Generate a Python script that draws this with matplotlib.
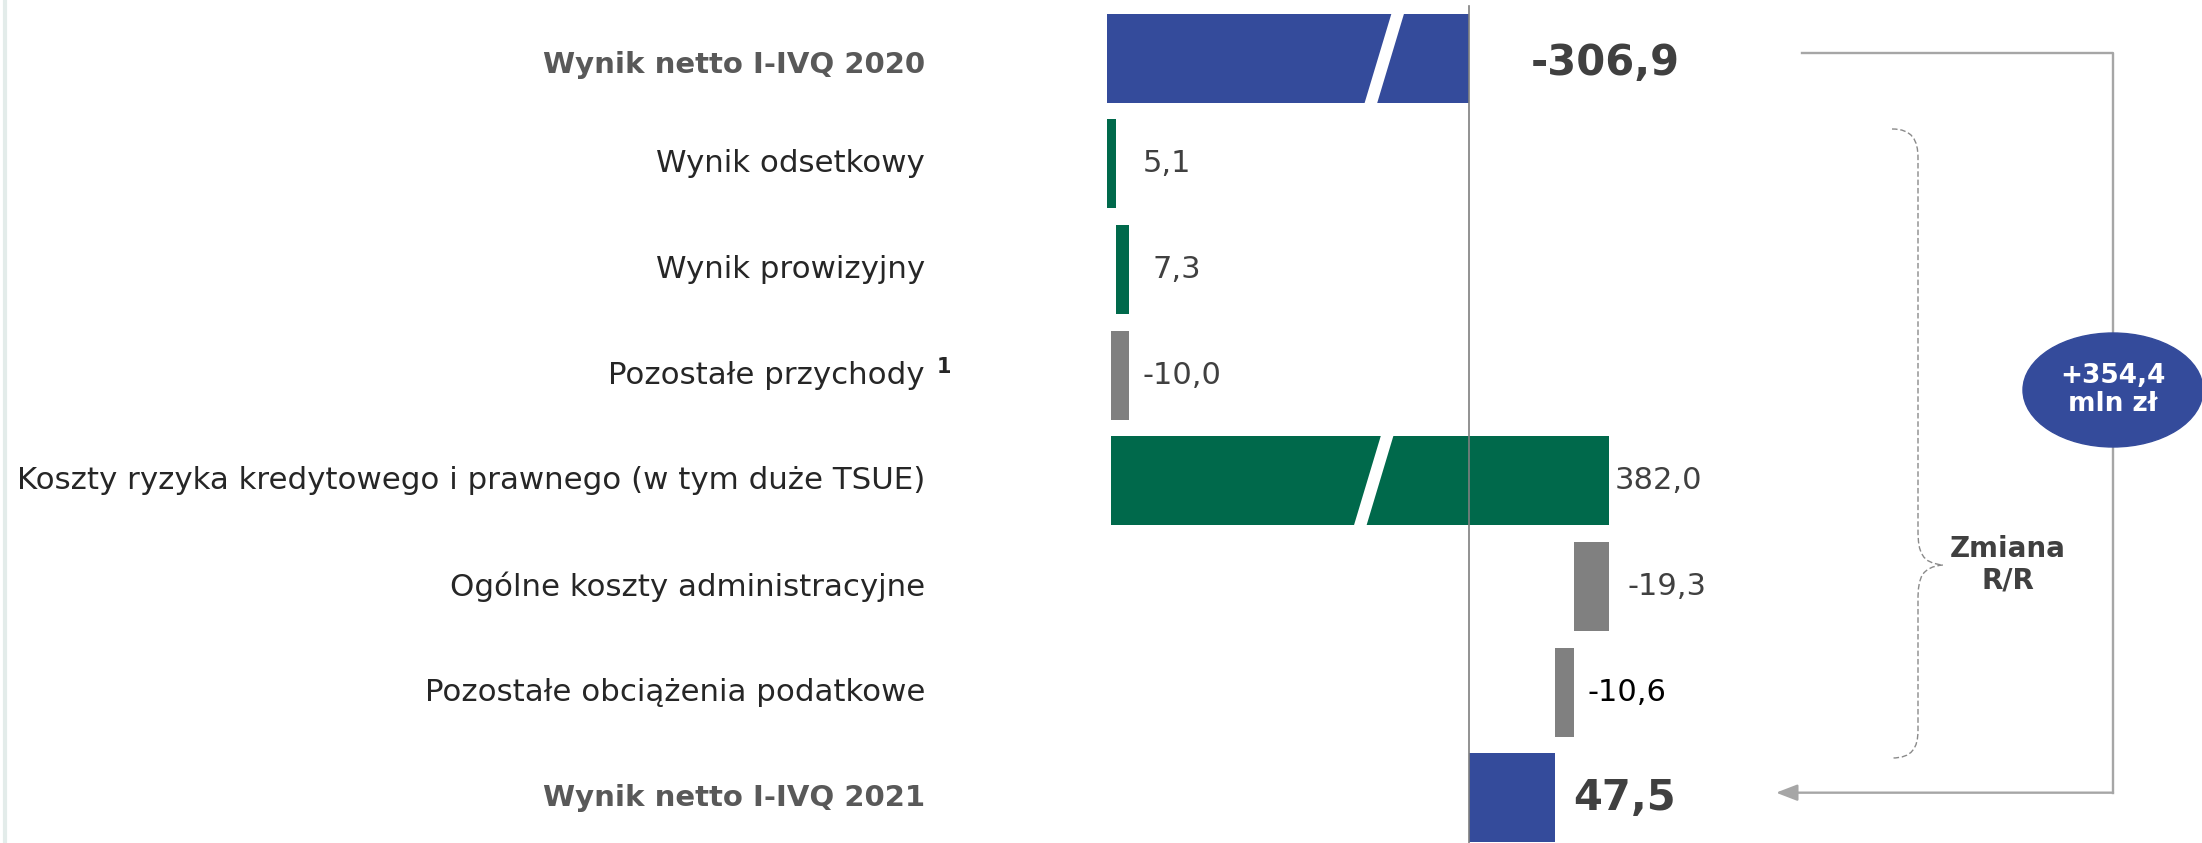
#!/usr/bin/env python

# Waterfall: net result 2020 -> 2021 (mln zl), horizontal bars with broken axis
import numpy as np
import matplotlib
matplotlib.use("Agg")
import matplotlib.pyplot as plt
import matplotlib.transforms as mtransforms
from matplotlib.patches import Ellipse, Polygon, PathPatch
from matplotlib.path import Path

# Data
categories = [
    "Wynik netto I-IVQ 2020",
    "Wynik odsetkowy",
    "Wynik prowizyjny",
    "Pozostałe przychody",
    "Koszty ryzyka kredytowego i prawnego (w tym duże TSUE)",
    "Ogólne koszty administracyjne",
    "Pozostałe obciążenia podatkowe",
    "Wynik netto I-IVQ 2021",
]
start_total = -306.9
changes = [5.1, 7.3, -10.0, 382.0, -19.3, -10.6]
end_total = 47.5
change_label = "Zmiana\nR/R"
footnote_mark = "1"

# Colours
BLUE = "#344b9b"
GREEN = "#00694b"
GREY = "#808080"
TEXT = "#404040"

# Figure size in pixels
W, H = 2202, 843

# Broken x axis: compress the part between -265 and -150
A, B, K = 150.0, 265.0, 0.08
SHIFT = B - A - (B - A) * K
U = -A - (B - A) * K


def fwd(v):
    v = np.asarray(v, dtype=float)
    return np.where(v >= -A, v, np.where(v >= -B, -A + (v + A) * K, v + SHIFT))


def inv(u):
    u = np.asarray(u, dtype=float)
    return np.where(u >= -A, u, np.where(u >= U, -A + (u + A) / K, u - SHIFT))


px_per_unit = 1.8
zero_px = 1469

fig = plt.figure(figsize=(W / 100, H / 100), dpi=100)
ax = fig.add_axes([0, 0, 1, 1])
ax.set_xscale("function", functions=(fwd, inv))
ax.set_xlim(float(inv(-zero_px / px_per_unit)), (W - zero_px) / px_per_unit)
ax.set_ylim(7.426, -0.549)
ax.axis("off")

rows = np.arange(len(categories))
bar_h = 0.842

# Bar geometry from the data
before = start_total + np.concatenate([[0], np.cumsum(changes)[:-1]])
lefts = [start_total] + list(before) + [0]
widths = [-start_total] + list(changes) + [end_total]
colors = [BLUE] + [GREEN if c > 0 else GREY for c in changes] + [BLUE]
ax.barh(rows, widths, left=lefts, height=bar_h, color=colors, zorder=2)

# White slashes showing the axis break
slash_rows = [0, 4]
slash_centres = [-47, -53]
s, g = 7.6, 7.0
for r, c in zip(slash_rows, slash_centres):
    top = r - bar_h / 2 - 0.01
    bot = r + bar_h / 2 + 0.01
    ax.add_patch(Polygon([(c + s - g / 2, top), (c + s + g / 2, top),
                          (c - s + g / 2, bot), (c - s - g / 2, bot)],
                         closed=True, color="white", lw=0, zorder=3))

# Zero line
ax.plot([0, 0], [-0.49, 7.426], color="#7f7f7f", lw=1.2, zorder=4)

# Category labels
blend = mtransforms.blended_transform_factory(ax.transAxes, ax.transData)
for i, lab in enumerate(categories):
    bold = i in (0, len(categories) - 1)
    dy = 0.07 if i == 0 else 0.0
    ax.text(925 / W, i + dy, lab, transform=blend, ha="right", va="center",
            fontsize=21 if bold else 22.2,
            fontweight="bold" if bold else "normal",
            color="#595959" if bold else "#262626")
ax.text(937 / W, 3 - 0.08, footnote_mark, transform=blend, ha="left",
        va="center", fontsize=15, fontweight="bold", color="#262626")


# Value labels
def fmt(v):
    return f"{v:.1f}".replace(".", ",")


label_pad_px = [62, 26, 23, 13, 6, 19, 14, 19]
ends = [0] + [max(b, b + c) for b, c in zip(before, changes)] + [end_total]
values = [start_total] + changes + [end_total]
for i, (x, v) in enumerate(zip(ends, values)):
    big = i in (0, len(values) - 1)
    ax.annotate(fmt(v), (x, i + (0.05 if i == 0 else 0)),
                xytext=(label_pad_px[i] * 0.72, 0), textcoords="offset points",
                ha="left", va="center",
                fontsize=30 if big else 22,
                fontweight="bold" if big else "normal",
                color="#000000" if i == 6 else TEXT)

# Right side connector and arrow
line_col = "#a6a6a6"
x_right = 2113 / W
ax.plot([1802 / W, x_right, x_right], [-0.05, -0.05, 6.95],
        transform=blend, color=line_col, lw=1.7, zorder=1)
ax.annotate("", xy=(1776 / W, 6.95), xycoords=blend,
            xytext=(x_right, 6.95), textcoords=blend,
            arrowprops=dict(arrowstyle="-|>,head_length=1.3,head_width=0.5",
                            color=line_col, lw=1.7, shrinkA=0, shrinkB=0))

# Ellipse with total change
total_change = end_total - start_total
ax.add_patch(Ellipse((x_right, 1 - 390 / H), 180 / W, 114 / H,
                     transform=ax.transAxes, color=BLUE, zorder=5))
ax.text(x_right, 1 - 390 / H, f"+{fmt(total_change)}\nmln zł",
        transform=ax.transAxes, ha="center", va="center", fontsize=19,
        fontweight="bold", color="white", linespacing=1.1, zorder=6)


# Curly brace (dashed) around the change rows
def px(x, y):
    return (x / W, 1 - y / H)


verts = [px(1892, 129), px(1912, 129), px(1918, 140), px(1918, 158),
         px(1918, 530),
         px(1918, 553), px(1922, 563), px(1943, 565),
         px(1922, 567), px(1918, 577), px(1918, 600),
         px(1918, 730),
         px(1918, 748), px(1912, 758), px(1892, 758)]
codes = [Path.MOVETO, Path.CURVE4, Path.CURVE4, Path.CURVE4,
         Path.LINETO,
         Path.CURVE4, Path.CURVE4, Path.CURVE4,
         Path.CURVE4, Path.CURVE4, Path.CURVE4,
         Path.LINETO,
         Path.CURVE4, Path.CURVE4, Path.CURVE4]
ax.add_patch(PathPatch(Path(verts, codes), transform=ax.transAxes, fill=False,
                       edgecolor="#8a8a8a", lw=1.0, linestyle=(0, (4, 2))))
ax.text(2008 / W, 1 - 565 / H, change_label, transform=ax.transAxes,
        ha="center", va="center", fontsize=20, fontweight="bold",
        color=TEXT, linespacing=1.15)

# Thin border on the left edge
ax.plot([5 / W, 5 / W], [0, 1], transform=ax.transAxes, color="#e3ecea", lw=3)

fig.savefig("out.png", dpi=100)
plt.close(fig)
